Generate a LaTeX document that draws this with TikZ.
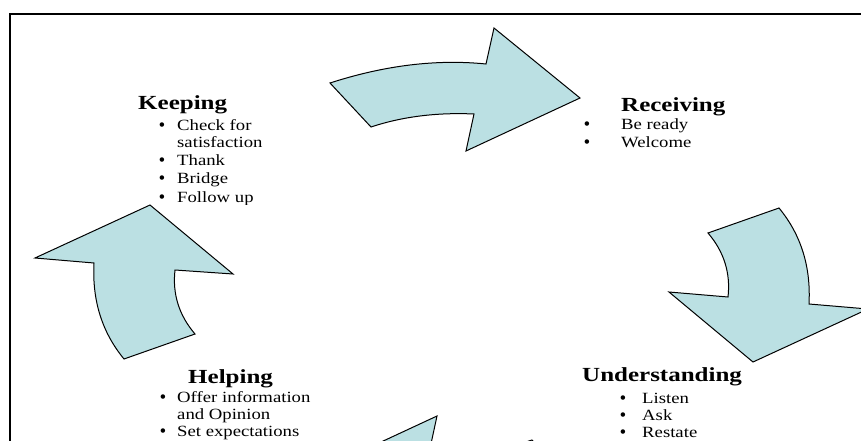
\documentclass[tikz,border=0pt]{standalone}
\usepackage{fontspec}
\setmainfont{Liberation Serif}[FakeStretch=1.2]
\newfontfamily\headfont{Liberation Serif}[FakeStretch=1.25]
\newfontfamily\bulletfont{Liberation Sans}
\definecolor{arrowfill}{HTML}{BBE0E3}
\tikzset{
  cyclearrow/.style={fill=arrowfill, draw=black, line width=1pt, line join=miter},
  headtext/.style={anchor=base west, inner sep=0pt, font=\headfont\bfseries\fontsize{20}{24}\selectfont},
  itemtext/.style={anchor=base west, inner sep=0pt, font=\fontsize{15.6}{18}\selectfont},
  bullettext/.style={anchor=base, inner sep=0pt, font=\bulletfont\fontsize{16.5}{18}\selectfont},
  frameline/.style={draw=black, line width=2.5pt}
}
\begin{document}
\begin{tikzpicture}[x={(1pt,0)}, y={(0,-1pt)}]
\useasboundingbox (0,0) rectangle (861,441);
\clip (0,0) rectangle (861,441);
\fill[white] (0,0) rectangle (861,441);
% frame
\draw[frameline] (10,14) rectangle (920,480);
% top arrow (Keeping -> Receiving)
\draw[cyclearrow] (330,83) .. controls (384.7,65.3) and (436.7,59) .. (486,64) -- (494,28) -- (580,98) -- (466,151) -- (474,114) .. controls (436.3,112.3) and (402,116.7) .. (371,127) -- cycle;
% right arrow (Receiving -> Understanding)
\draw[cyclearrow] (708,233) -- (779,208) .. controls (801,234.7) and (811,266.7) .. (809,304) -- (868,309) -- (753,362) -- (669,292) -- (728,297) .. controls (730.7,273) and (724,251.7) .. (708,233) -- cycle;
% bottom arrow (Understanding -> Helping)
\draw[cyclearrow] (573,484) .. controls (518.3,501.7) and (466.3,508) .. (417,503) -- (409,539) -- (323,469) -- (437,416) -- (429,453) .. controls (466.7,454.7) and (501,450.3) .. (532,440) -- cycle;
% left arrow (Helping -> Keeping)
\draw[cyclearrow] (195,334) -- (124,359) .. controls (102,332.3) and (92,300.3) .. (94,263) -- (35,258) -- (150,205) -- (233,274) -- (175,270) .. controls (172.3,294) and (179,315.3) .. (195,334) -- cycle;
% Keeping
\begin{scope}
\clip (100,60) rectangle (320,204.5);
\node[headtext] (keephead) at (138,110) {Keeping};
\node[bullettext] (kb1) at (162,130) {•};
\node[itemtext] (ki1) at (177,130) {Check for};
\node[itemtext] (ki2) at (177,147) {satisfaction};
\node[bullettext] (kb3) at (162,165) {•};
\node[itemtext] (ki3) at (177,165) {Thank};
\node[bullettext] (kb4) at (162,183) {•};
\node[itemtext] (ki4) at (177,183) {Bridge};
\node[bullettext] (kb5) at (162,202) {•};
\node[itemtext] (ki5) at (177,202) {Follow up};
\end{scope}
% Receiving
\node[headtext] (rechead) at (621,111) {Receiving};
\node[bullettext] (rb1) at (587,129) {•};
\node[itemtext] (ri1) at (621,129) {Be ready};
\node[bullettext] (rb2) at (587,147.5) {•};
\node[itemtext] (ri2) at (621,147.5) {Welcome};
% Understanding
\node[headtext] (undhead) at (582,381) {Understanding};
\node[bullettext] (ub1) at (623,403) {•};
\node[itemtext] (ui1) at (642,403) {Listen};
\node[bullettext] (ub2) at (623,420) {•};
\node[itemtext] (ui2) at (642,420) {Ask};
\node[bullettext] (ub3) at (623,437.5) {•};
\node[itemtext] (ui3) at (642,437.5) {Restate};
% Helping
\node[headtext] (helphead) at (188,383) {Helping};
\node[bullettext] (hb1) at (163,402) {•};
\node[itemtext] (hi1) at (177,402) {Offer information};
\node[itemtext] (hi2) at (177,419) {and Opinion};
\node[bullettext] (hb3) at (163,436) {•};
\node[itemtext] (hi3) at (177,436) {Set expectations};
\end{tikzpicture}
\end{document}
